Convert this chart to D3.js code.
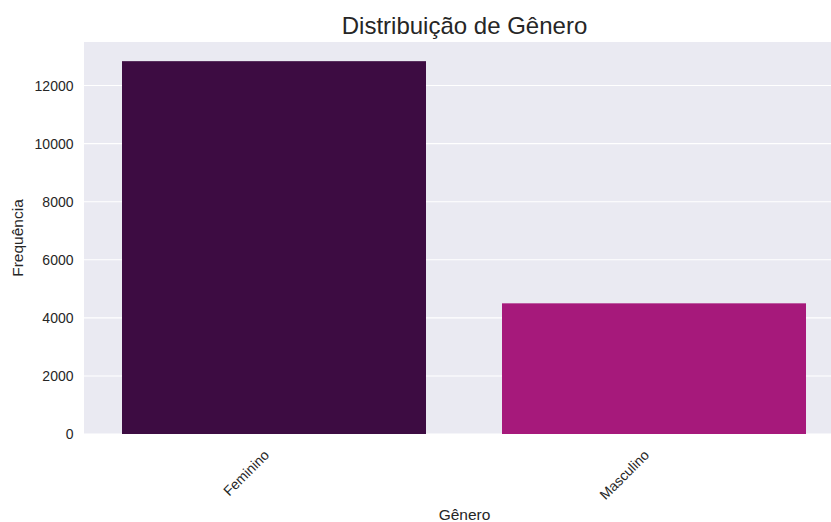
<!DOCTYPE html>
<html>
<head>
<meta charset="utf-8">
<script src="https://cdn.jsdelivr.net/npm/d3@7"></script>
<style>
    body { margin: 0; background: #fff; }
    svg { display: block; font-family: "Liberation Sans", Arial, sans-serif; }
</style>
</head>
<body>
<script>
    var categories = ["Feminino", "Masculino"];
    var counts = [12840, 4500];
    var barColors = ["#3d0c42", "#a6197b"];
    var yTicks = [0, 2000, 4000, 6000, 8000, 10000, 12000];

    (function () {
        var width = 831;
        var height = 522;
        var plotLeft = 84, plotRight = 844, plotTop = 42, plotBottom = 434;

        var svg = d3.select("body").append("svg")
            .attr("width", width)
            .attr("height", height);

        var xScale = d3.scaleBand()
            .domain(categories)
            .range([plotLeft, plotRight])
            .paddingInner(0.2)
            .paddingOuter(0.1);

        var yScale = d3.scaleLinear()
            .domain([0, 13500])
            .range([plotBottom, plotTop]);

        svg.append("rect")
            .attr("x", plotLeft)
            .attr("y", plotTop)
            .attr("width", plotRight - plotLeft)
            .attr("height", plotBottom - plotTop)
            .attr("fill", "#eaeaf2");

        // gridlines
        svg.append("g")
            .selectAll("line")
            .data(yTicks)
            .enter()
            .append("line")
            .attr("x1", plotLeft)
            .attr("x2", plotRight)
            .attr("y1", (d) => yScale(d))
            .attr("y2", (d) => yScale(d))
            .attr("stroke", "#fff")
            .attr("stroke-width", 1.1);

        svg.append("g")
            .selectAll("rect")
            .data(counts)
            .enter()
            .append("rect")
            .attr("x", (d, i) => xScale(categories[i]))
            .attr("y", (d) => yScale(d))
            .attr("width", xScale.bandwidth())
            .attr("height", (d) => yScale(0) - yScale(d))
            .attr("fill", (d, i) => barColors[i]);

        var yAxis = svg.append("g")
            .attr("transform", "translate(" + plotLeft + ",0)")
            .call(d3.axisLeft(yScale).tickValues(yTicks).tickFormat(d3.format("d")).tickSize(0).tickPadding(10.5));
        yAxis.select(".domain").remove();
        yAxis.selectAll("text")
            .style("font-size", "14px")
            .style("font-family", "Liberation Sans, Arial, sans-serif")
            .style("fill", "#262626");

        var xAxis = svg.append("g")
            .attr("transform", "translate(0," + plotBottom + ")")
            .call(d3.axisBottom(xScale).tickSize(0).tickPadding(0));
        xAxis.select(".domain").remove();
        xAxis.selectAll("text")
            .style("font-size", "14px")
            .style("font-family", "Liberation Sans, Arial, sans-serif")
            .style("fill", "#262626")
            .style("text-anchor", "end")
            .attr("dy", null)
            .attr("y", 0)
            .attr("transform", "translate(-4,22) rotate(-45)");

        svg.append("text")
            .attr("x", 464.5)
            .attr("y", 34)
            .attr("text-anchor", "middle")
            .style("font-size", "24px")
            .style("fill", "#262626")
            .text("Distribuição de Gênero");

        svg.append("text")
            .attr("x", 464.5)
            .attr("y", 520)
            .attr("text-anchor", "middle")
            .style("font-size", "15.5px")
            .style("fill", "#262626")
            .text("Gênero");

        svg.append("text")
            .attr("transform", "translate(23," + ((plotTop + plotBottom) / 2) + ") rotate(-90)")
            .attr("text-anchor", "middle")
            .style("font-size", "15.5px")
            .style("fill", "#262626")
            .text("Frequência");
    })();
</script>
</body>
</html>
